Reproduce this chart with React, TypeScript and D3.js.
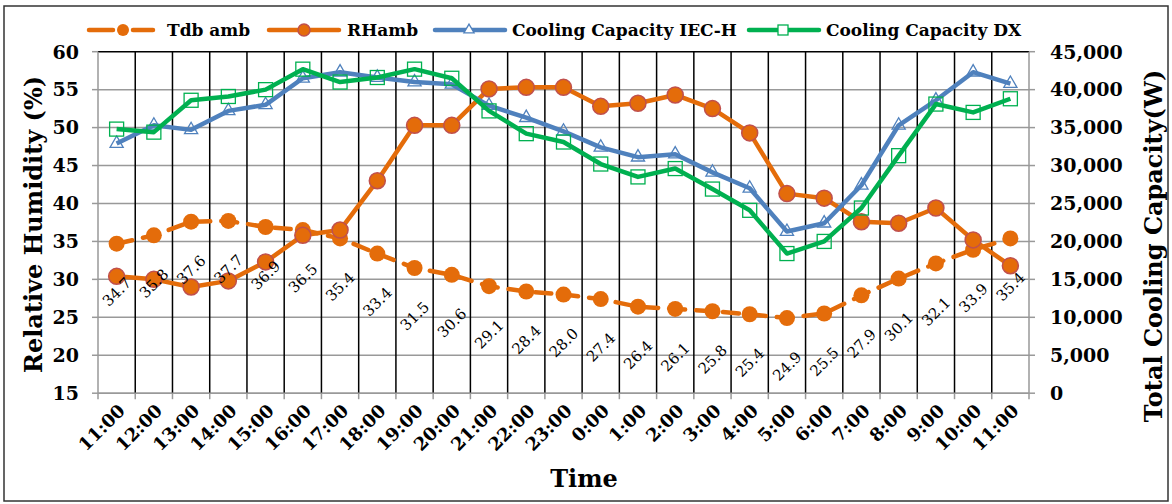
import * as d3 from "d3";
import React from "react";

// hours on the x axis (starts and ends at 11:00)
const hours = [
  "11:00", "12:00", "13:00", "14:00", "15:00", "16:00", "17:00", "18:00",
  "19:00", "20:00", "21:00", "22:00", "23:00", "0:00", "1:00", "2:00",
  "3:00", "4:00", "5:00", "6:00", "7:00", "8:00", "9:00", "10:00", "11:00",
];

// left axis series
const tdbAmb = [
  34.7, 35.8, 37.6, 37.7, 36.9, 36.5, 35.4, 33.4, 31.5, 30.6, 29.1, 28.4, 28.0,
  27.4, 26.4, 26.1, 25.8, 25.4, 24.9, 25.5, 27.9, 30.1, 32.1, 33.9, 35.4,
];
const rhAmb = [
  30.4, 30.0, 29.0, 29.8, 32.3, 35.8, 36.5, 43.0, 50.3, 50.3, 55.1, 55.3, 55.3,
  52.8, 53.2, 54.3, 52.5, 49.3, 41.3, 40.7, 37.6, 37.4, 39.4, 35.2, 31.8,
];

// right axis series (W)
const capIecH = [
  32900, 35300, 34700, 37200, 38000, 41500, 42300, 41600, 41000, 40700, 37900,
  36300, 34500, 32400, 31100, 31500, 29100, 27000, 21300, 22400, 27400, 35300,
  38600, 42300, 40800,
];
const capDx = [
  34800, 34400, 38600, 39100, 40000, 42700, 41000, 41600, 42700, 41500, 37200,
  34200, 33100, 30200, 28500, 29600, 26900, 24100, 18400, 20000, 24400, 31300,
  38100, 37000, 38800,
];

const leftTicks = [15, 20, 25, 30, 35, 40, 45, 50, 55, 60];
const rightTicks = [0, 5000, 10000, 15000, 20000, 25000, 30000, 35000, 40000, 45000];

const W = 1172;
const H = 504;
const FONT = "'DejaVu Serif', 'Liberation Serif', serif";
const ORANGE = "#E46C0A";
const RH_EDGE = "#C0504D";
const BLUE = "#4F81BD";
const GREEN = "#00B050";
const GRID = "#999999";

const App = () => {
  const left = 98;
  const right = 1029;
  const top = 51.7;
  const bottom = 393.2;

  const x = d3
    .scaleBand<number>()
    .domain(d3.range(hours.length))
    .range([left, right]);
  const cx = (i: number) => (x(i) as number) + x.bandwidth() / 2;
  const yL = d3.scaleLinear().domain([15, 60]).range([bottom, top]);
  const yR = d3.scaleLinear().domain([0, 45000]).range([bottom, top]);

  const lineL = d3
    .line<number>()
    .x((_, i) => cx(i))
    .y((d) => yL(d));
  const lineR = d3
    .line<number>()
    .x((_, i) => cx(i))
    .y((d) => yR(d));

  const fmt = d3.format(",");
  const bounds = d3.range(hours.length + 1).map((i) => left + i * x.bandwidth());

  const tri = d3.symbol().type(d3.symbolTriangle).size(75)();

  return (
    <svg
      width={W}
      height={H}
      style={{ position: "absolute", left: 0, top: 0, background: "#fff" }}
      fontFamily={FONT}
    >
      <rect x={0} y={0} width={W} height={H} fill="#fff" />
      <rect
        x={4}
        y={6}
        width={1164}
        height={495}
        fill="none"
        stroke="#333"
        strokeWidth={1.5}
      />

      {/* horizontal grid */}
      {leftTicks.map((t) => (
        <line
          key={"h" + t}
          x1={left}
          x2={right}
          y1={yL(t)}
          y2={yL(t)}
          stroke={t === 60 ? "#000" : GRID}
          strokeWidth={1.5}
        />
      ))}
      {/* vertical grid */}
      {bounds.slice(1, -1).map((b, i) => (
        <line key={"v" + i} x1={b} x2={b} y1={top} y2={bottom} stroke="#000" strokeWidth={1.5} />
      ))}
      {/* axes */}
      <line x1={left} x2={left} y1={top} y2={bottom} stroke={GRID} strokeWidth={1.5} />
      <line x1={right} x2={right} y1={top} y2={bottom} stroke={GRID} strokeWidth={1.5} />
      <line x1={left} x2={right} y1={bottom} y2={bottom} stroke={GRID} strokeWidth={1.5} />
      {bounds.map((b, i) => (
        <line key={"bt" + i} x1={b} x2={b} y1={bottom} y2={bottom + 6} stroke={GRID} strokeWidth={1.5} />
      ))}
      {leftTicks.map((t) => (
        <line key={"lt" + t} x1={left - 6} x2={left} y1={yL(t)} y2={yL(t)} stroke={GRID} strokeWidth={1.5} />
      ))}
      {rightTicks.map((t) => (
        <line key={"rt" + t} x1={right} x2={right + 6} y1={yR(t)} y2={yR(t)} stroke={GRID} strokeWidth={1.5} />
      ))}

      {/* tick labels */}
      {leftTicks.map((t) => (
        <text
          key={"ll" + t}
          x={79}
          y={yL(t)}
          dy="0.36em"
          textAnchor="end"
          fontSize={19}
          fontWeight="bold"
        >
          {t}
        </text>
      ))}
      {rightTicks.map((t) => (
        <text
          key={"rl" + t}
          x={1050}
          y={yR(t)}
          dy="0.36em"
          fontSize={19}
          fontWeight="bold"
        >
          {fmt(t)}
        </text>
      ))}
      {hours.map((h, i) => (
        <text
          key={"xl" + i}
          transform={`translate(${cx(i) + 5},${bottom + 14}) rotate(-45)`}
          textAnchor="end"
          dy="0.36em"
          fontSize={18}
          fontWeight="bold"
        >
          {h}
        </text>
      ))}

      {/* axis titles */}
      <text
        transform={`translate(33,${(top + bottom) / 2 + 2}) rotate(-90)`}
        textAnchor="middle"
        dy="0.36em"
        fontSize={24}
        fontWeight="bold"
      >
        Relative Humidity (%)
      </text>
      <text
        transform={`translate(1153,246) rotate(-90)`}
        textAnchor="middle"
        dy="0.36em"
        fontSize={24}
        fontWeight="bold"
      >
        Total Cooling Capacity(W)
      </text>
      <text x={584} y={487} textAnchor="middle" fontSize={24} fontWeight="bold">
        Time
      </text>

      {/* Tdb amb */}
      <path
        d={lineL(tdbAmb) || ""}
        fill="none"
        stroke={ORANGE}
        strokeWidth={4.5}
        strokeDasharray="16 11"
        strokeLinecap="round"
      />
      {tdbAmb.map((d, i) => (
        <circle key={"tc" + i} cx={cx(i)} cy={yL(d)} r={8} fill={ORANGE} />
      ))}

      {/* RHamb */}
      <path d={lineL(rhAmb) || ""} fill="none" stroke={ORANGE} strokeWidth={4.5} strokeLinejoin="round" />
      {rhAmb.map((d, i) => (
        <circle
          key={"rc" + i}
          cx={cx(i)}
          cy={yL(d)}
          r={8}
          fill={ORANGE}
          stroke={RH_EDGE}
          strokeWidth={1.5}
        />
      ))}

      {/* Cooling Capacity IEC-H */}
      <path d={lineR(capIecH) || ""} fill="none" stroke={BLUE} strokeWidth={4.5} strokeLinejoin="round" />
      {capIecH.map((d, i) => (
        <path
          key={"bt" + i}
          d={tri || ""}
          transform={`translate(${cx(i)},${yR(d)})`}
          fill="none"
          stroke={BLUE}
          strokeWidth={1.3}
        />
      ))}

      {/* Cooling Capacity DX */}
      <path d={lineR(capDx) || ""} fill="none" stroke={GREEN} strokeWidth={4.5} strokeLinejoin="round" />
      {capDx.map((d, i) => (
        <rect
          key={"gs" + i}
          x={cx(i) - 7}
          y={yR(d) - 7}
          width={14}
          height={14}
          fill="none"
          stroke={GREEN}
          strokeWidth={1.3}
        />
      ))}

      {/* data labels for Tdb amb */}
      {tdbAmb.map((d, i) => (
        <text
          key={"dl" + i}
          transform={`translate(${cx(i)},${yL(d) + 48}) rotate(-45)`}
          textAnchor="middle"
          dy="0.36em"
          fontSize={15}
        >
          {d.toFixed(1)}
        </text>
      ))}

      {/* legend */}
      <g fontSize={17} fontWeight="bold">
        <line x1={89} x2={153} y1={30} y2={30} stroke={ORANGE} strokeWidth={4.5} strokeDasharray="24 20" strokeLinecap="round" />
        <circle cx={123} cy={30} r={6} fill={ORANGE} />
        <text x={167} y={30} dy="0.36em">Tdb amb</text>

        <line x1={269} x2={339} y1={30} y2={30} stroke={ORANGE} strokeWidth={4.5} strokeLinecap="round" />
        <circle cx={304} cy={30} r={6} fill={ORANGE} stroke={RH_EDGE} strokeWidth={1.5} />
        <text x={347} y={30} dy="0.36em">RHamb</text>

        <line x1={435} x2={505} y1={30} y2={30} stroke={BLUE} strokeWidth={4.5} strokeLinecap="round" />
        <path d={d3.symbol().type(d3.symbolTriangle).size(45)() || ""} transform="translate(469,30)" fill="#fff" stroke={BLUE} strokeWidth={1.3} />
        <text x={512} y={30} dy="0.36em">Cooling Capacity IEC-H</text>

        <line x1={749} x2={819} y1={30} y2={30} stroke={GREEN} strokeWidth={4.5} strokeLinecap="round" />
        <rect x={778} y={25} width={10} height={10} fill="#fff" stroke={GREEN} strokeWidth={1.3} />
        <text x={826} y={30} dy="0.36em">Cooling Capacity DX</text>
      </g>
    </svg>
  );
};

export default App;
